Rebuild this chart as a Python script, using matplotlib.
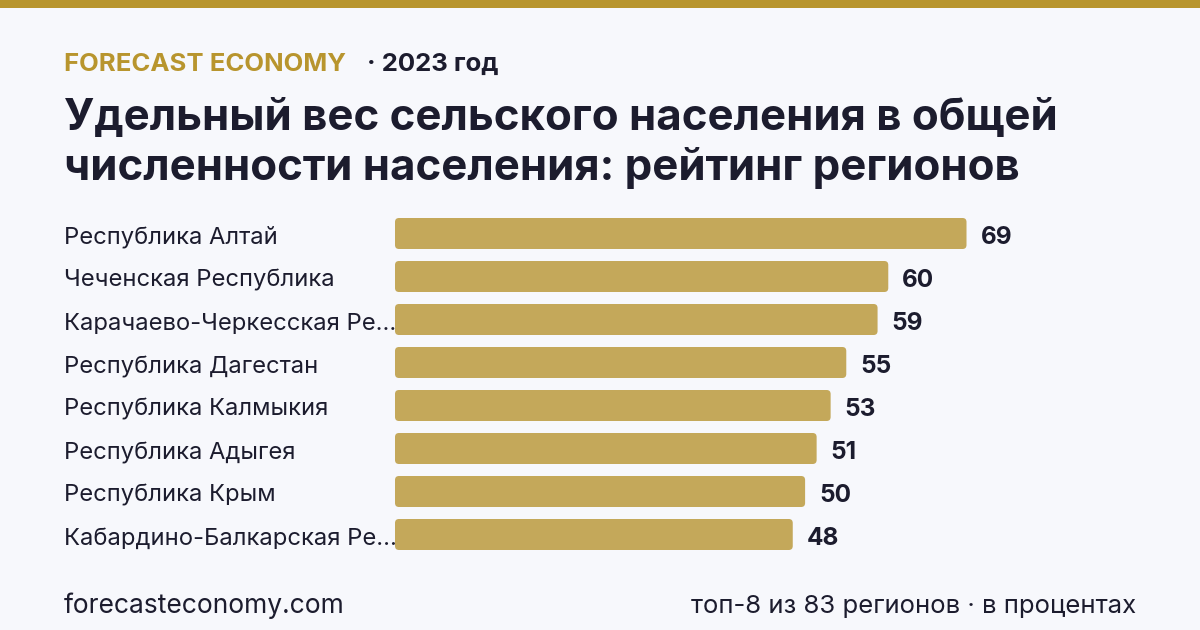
import matplotlib
matplotlib.use("Agg")
import matplotlib.pyplot as plt
from matplotlib.patches import FancyBboxPatch, Rectangle

regions = ["Республика Алтай", "Чеченская Республика", "Карачаево-Черкесская Ре...",
           "Республика Дагестан", "Республика Калмыкия", "Республика Адыгея",
           "Республика Крым", "Кабардино-Балкарская Ре..."]
values = [69.4, 59.9, 58.6, 54.8, 52.9, 51.2, 49.8, 48.3]

BG = "#F7F8FC"
GOLD = "#B8952E"
BAR = "#C4A85A"
DARK = "#1C1C2E"
W, H = 1200, 630

plt.rcParams['font.family'] = ['Inter', 'DejaVu Sans']
fig = plt.figure(figsize=(12, 6.3), dpi=100, facecolor=BG)

def fx(px):
    return px / W

def fy(py):
    return 1 - py / H

# top band
fig.patches.append(Rectangle((0, fy(8)), 1, 8 / H, transform=fig.transFigure,
                             facecolor=GOLD, edgecolor="none"))

fig.text(fx(64), fy(71), "FORECAST ECONOMY", color=GOLD, fontsize=18.5,
         fontweight="bold", va="baseline", ha="left")
fig.text(fx(367), fy(71), "· 2023 год", color=DARK, fontsize=18.5,
         fontweight="bold", va="baseline", ha="left")

fig.text(fx(64), fy(130), "Удельный вес сельского населения в общей", color=DARK,
         fontsize=31.5, fontweight="bold", va="baseline", ha="left")
fig.text(fx(64), fy(180), "численности населения: рейтинг регионов", color=DARK,
         fontsize=31.5, fontweight="bold", va="baseline", ha="left")

# bars axes
px_per_unit = 8.235
ax_left, ax_right = 395, 1150
row = 43
top_center, n = 233.5, len(values)
ax_top = top_center - row / 2
ax_bot = ax_top + row * n
ax = fig.add_axes([fx(ax_left), fy(ax_bot), (ax_right - ax_left) / W, (ax_bot - ax_top) / H])
ax.set_facecolor("none")
ax.set_xlim(0, (ax_right - ax_left) / px_per_unit)
ax.set_ylim(n - 0.5, -0.5)
ax.axis("off")

ypos = list(range(n))
bars = ax.barh(ypos, values, height=31 / row, color=BAR)
r_x = 4 / px_per_unit
r_y = 4 / row
for b in bars:
    x0, y0, w, h = b.get_x(), b.get_y(), b.get_width(), b.get_height()
    b.remove()
    ax.add_patch(FancyBboxPatch((x0, y0), w, h,
                                boxstyle=f"round,pad=0,rounding_size={r_x}",
                                mutation_aspect=r_y / r_x,
                                facecolor=BAR, edgecolor="none", zorder=3))

for y, v, name in zip(ypos, values, regions):
    ax.text(v + 14 / px_per_unit, y + 10.5 / row, f"{round(v)}", color=DARK,
            fontsize=17.5, fontweight="bold", va="baseline", ha="left")
    fig.text(fx(64), fy(top_center + y * row + 10.5), name, color=DARK, fontsize=17.1,
             va="baseline", ha="left", zorder=1)

fig.text(fx(64), fy(613), "forecasteconomy.com", color=DARK, fontsize=19,
         va="baseline", ha="left")
fig.text(fx(1136), fy(613), "топ-8 из 83 регионов · в процентах", color=DARK,
         fontsize=18.5, va="baseline", ha="right")

fig.savefig("out.png", dpi=100, facecolor=BG)
